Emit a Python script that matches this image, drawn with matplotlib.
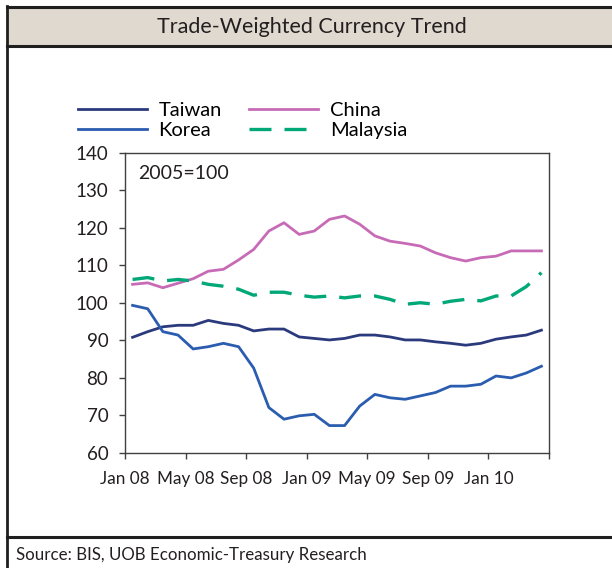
import matplotlib.pyplot as plt
import numpy as np
from matplotlib.lines import Line2D
from matplotlib.patches import Rectangle

plt.rcParams['font.family'] = ['Lato', 'DejaVu Sans']

# monthly index values, Jan 08 .. Apr 10 (2005=100)
taiwan = [90.8, 92.3, 93.6, 94.0, 94.0, 95.3, 94.5, 94.0, 92.5, 93.0, 93.0, 90.9, 90.5, 90.1,
          90.5, 91.4, 91.4, 90.9, 90.1, 90.1, 89.6, 89.2, 88.7, 89.2, 90.3, 90.9, 91.4, 92.7]
korea = [99.3, 98.4, 92.3, 91.4, 87.7, 88.3, 89.2, 88.3, 82.6, 72.1, 69.0, 69.9, 70.3, 67.3,
         67.3, 72.5, 75.6, 74.7, 74.3, 75.2, 76.1, 77.8, 77.8, 78.3, 80.5, 80.0, 81.3, 83.1]
china = [104.9, 105.3, 104.0, 105.2, 106.4, 108.4, 108.9, 111.4, 114.2, 119.1, 121.3, 118.2, 119.1, 122.2,
         123.1, 120.9, 117.8, 116.4, 115.8, 115.1, 113.3, 112.0, 111.1, 112.0, 112.4, 113.8, 113.8, 113.8]
malaysia = [106.2, 106.7, 105.8, 106.2, 105.8, 104.9, 104.4, 103.6, 102.0, 102.8, 102.8, 102.0, 101.5, 101.8,
            101.3, 101.8, 101.8, 100.9, 99.6, 100.0, 99.6, 100.4, 100.9, 100.5, 101.8, 101.8, 104.3, 108.0]
tick_labels = ['Jan 08', 'May 08', 'Sep 08', 'Jan 09', 'May 09', 'Sep 09', 'Jan 10']

W, H = 612, 568
fig = plt.figure(figsize=(W / 100, H / 100), dpi=100)


def fx(px):
    return px / W


def fy(py):
    return 1 - py / H


# title box and outer frame
fig.patches.append(Rectangle((fx(7), fy(46)), fx(620) - fx(7), fy(7) - fy(46),
                             transform=fig.transFigure, facecolor='#e0d9cf', edgecolor='none'))
frame = '#1f1f1f'
fig.lines.append(Line2D([fx(7), fx(615)], [fy(7), fy(7)], color=frame, lw=2.2, transform=fig.transFigure))
fig.lines.append(Line2D([fx(7), fx(615)], [fy(45.5), fy(45.5)], color=frame, lw=2.2, transform=fig.transFigure))
fig.lines.append(Line2D([fx(7), fx(7)], [fy(6), fy(568)], color=frame, lw=2.0, transform=fig.transFigure))
fig.lines.append(Line2D([fx(7), fx(615)], [fy(536.5), fy(536.5)], color=frame, lw=2.2, transform=fig.transFigure))

fig.text(fx(312), fy(27), 'Trade-Weighted Currency Trend', ha='center', va='center',
         fontsize=15.5, color='#231f20')
fig.text(fx(16), fy(555), 'Source: BIS, UOB Economic-Treasury Research', ha='left', va='center',
         fontsize=12.2, color='#231f20')

ax = fig.add_axes([fx(125), fy(453), fx(549) - fx(125), fy(152.5) - fy(453)])
x = np.arange(len(taiwan))
ax.plot(x, taiwan, color='#2a3a7c', lw=2.0, label='Taiwan')
ax.plot(x, korea, color='#2a5cb0', lw=2.0, label='Korea')
ax.plot(x, china, color='#c76bb7', lw=2.0, label='China')
ax.plot(x, malaysia, color='#00a878', lw=2.4, dashes=(6.6, 3.9), label='Malaysia')

ax.set_xlim(-0.5, len(taiwan) - 0.5)
ax.set_ylim(60, 140)
ax.set_yticks(range(60, 141, 10))
ax.set_xticks(np.arange(-0.5, len(taiwan), 4))
ax.set_xticklabels(tick_labels + [''])
ax.tick_params(axis='both', direction='out', length=4, width=1, color='#404040',
               labelsize=13.5, labelcolor='#231f20')
ax.tick_params(axis='x', pad=9, labelsize=12.3)
ax.tick_params(axis='y', pad=8)
for s in ax.spines.values():
    s.set_color('#404040')
    s.set_linewidth(1)

ax.text(0.03, 0.93, '2005=100', transform=ax.transAxes, fontsize=14, color='#231f20',
        ha='left', va='center')

handles, labels = ax.get_legend_handles_labels()
order = [0, 1, 2, 3]
fig.legend([handles[i] for i in order], [labels[i] for i in order], ncol=2,
           loc='upper left', bbox_to_anchor=(fx(70), fy(94)), frameon=False,
           fontsize=14.5, handlelength=3.4, handletextpad=0.6, columnspacing=1.35,
           labelspacing=0.15, borderaxespad=0)

fig.savefig('out.png', dpi=100)
